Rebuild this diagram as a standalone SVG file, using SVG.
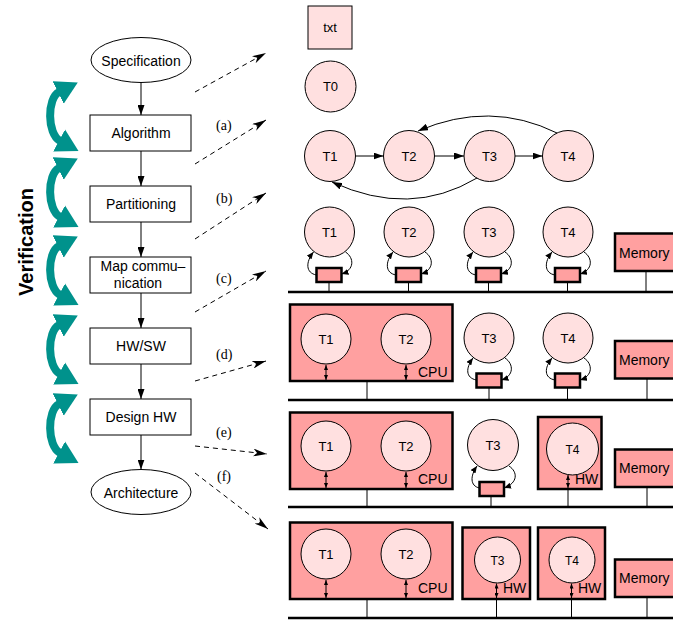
<svg xmlns="http://www.w3.org/2000/svg" width="673" height="621" viewBox="0 0 673 621">
<style>
text{font-family:"Liberation Sans",Arial,sans-serif;font-size:14px;fill:#000}
.lbl{font-family:"Liberation Serif","Times New Roman",serif;font-size:14px}
.t{font-size:13px;text-anchor:middle}
.ts{font-size:12px;text-anchor:middle}
.c{text-anchor:middle}
.flow{fill:#fff;stroke:#000;stroke-width:1}
.task{fill:#FFE0E0;stroke:#000;stroke-width:1}
.blk{fill:#FFA0A0;stroke:#000;stroke-width:2.5}
.bus{stroke:#000;stroke-width:2.5;fill:none}
.ln{stroke:#000;stroke-width:1;fill:none}
.dash{stroke:#000;stroke-width:1;fill:none;stroke-dasharray:5 4;marker-end:url(#dart)}
.arr{stroke:#000;stroke-width:1;fill:none;marker-end:url(#ah)}
.loop{stroke:#000;stroke-width:1;fill:none;marker-end:url(#sm)}
.dbl{stroke:#000;stroke-width:1;fill:none;marker-start:url(#sm2);marker-end:url(#sm2)}
.ver{stroke:#00928C;stroke-width:8;fill:none;marker-start:url(#teal);marker-end:url(#teal)}
</style>
<defs>
<marker id="ah" markerUnits="userSpaceOnUse" viewBox="0 0 10 7" markerWidth="10" markerHeight="7" refX="10" refY="3.5" orient="auto"><path d="M0,0 L10,3.5 L0,7 Z" fill="#000"/></marker>
<marker id="dart" markerUnits="userSpaceOnUse" viewBox="0 0 14 8" markerWidth="14" markerHeight="8" refX="14" refY="4" orient="auto"><path d="M0,0 L14,4 L0,8 L4,4 Z" fill="#000"/></marker>
<marker id="sm" markerUnits="userSpaceOnUse" viewBox="0 0 7 6" markerWidth="7" markerHeight="6" refX="7" refY="3" orient="auto"><path d="M0,0 L7,3 L0,6 Z" fill="#000"/></marker>
<marker id="sm2" markerUnits="userSpaceOnUse" viewBox="0 0 5 4" markerWidth="5" markerHeight="4" refX="5" refY="2" orient="auto-start-reverse"><path d="M0,0 L5,2 L0,4 Z" fill="#000"/></marker>
<marker id="teal" markerUnits="userSpaceOnUse" viewBox="0 -13 22 26" markerWidth="22" markerHeight="26" refX="1" refY="0" orient="auto-start-reverse"><path d="M0,-12.5 L22,0 L0,12.5 Z" fill="#00928C"/></marker>
</defs>

<!-- Verification -->
<g id="verification">
<text transform="translate(33,242) rotate(-90)" text-anchor="middle" style="font-size:20px;font-weight:bold">Verification</text>
<path class="ver" d="M59,92 C47,98 47,134 60,141"/>
<path class="ver" d="M59,168 C47,174 47,210 60,217"/>
<path class="ver" d="M59,246 C47,252 47,288 60,295"/>
<path class="ver" d="M59,325 C47,331 47,367 60,374"/>
<path class="ver" d="M59,404 C47,410 47,446 60,453"/>
</g>

<!-- Flow nodes -->
<g id="specification"><ellipse class="flow" cx="141" cy="60" rx="50" ry="22.5"/><text class="c" x="141" y="66">Specification</text></g>
<g id="algorithm"><rect class="flow" x="90" y="115" width="101" height="36"/><text class="c" x="141" y="138">Algorithm</text></g>
<g id="partitioning"><rect class="flow" x="90" y="186" width="101" height="36"/><text class="c" x="141" y="209">Partitioning</text></g>
<g id="mapcomm"><rect class="flow" x="90" y="257" width="101" height="36"/><text class="c" x="143" y="271">Map commu–</text><text class="c" x="138" y="288">nication</text></g>
<g id="hwsw"><rect class="flow" x="90" y="328" width="101" height="36"/><text class="c" x="141" y="351">HW/SW</text></g>
<g id="designhw"><rect class="flow" x="90" y="399" width="101" height="36"/><text class="c" x="141" y="422">Design HW</text></g>
<g id="architecture"><ellipse class="flow" cx="141" cy="492" rx="50" ry="22.5"/><text class="c" x="141" y="498">Architecture</text></g>

<!-- Flow connectors and step arrows -->
<g id="connectors">
<line class="arr" x1="141" y1="82.5" x2="141" y2="115"/>
<line class="arr" x1="141" y1="151" x2="141" y2="186"/>
<line class="arr" x1="141" y1="222" x2="141" y2="257"/>
<line class="arr" x1="141" y1="293" x2="141" y2="328"/>
<line class="arr" x1="141" y1="364" x2="141" y2="399"/>
<line class="arr" x1="141" y1="435" x2="141" y2="469.5"/>
<line class="dash" x1="195" y1="92" x2="266" y2="53"/>
<line class="dash" x1="195" y1="164" x2="266" y2="120"/>
<line class="dash" x1="195" y1="239" x2="266" y2="193"/>
<line class="dash" x1="195" y1="312" x2="266" y2="271"/>
<line class="dash" x1="195" y1="381" x2="266" y2="361"/>
<line class="dash" x1="195" y1="446" x2="267" y2="454"/>
<line class="dash" x1="195" y1="473" x2="268" y2="529"/>
</g>
<g id="step-labels">
<text class="lbl" x="216" y="130">(a)</text>
<text class="lbl" x="216" y="203">(b)</text>
<text class="lbl" x="216" y="283">(c)</text>
<text class="lbl" x="216" y="359">(d)</text>
<text class="lbl" x="216" y="437">(e)</text>
<text class="lbl" x="217" y="481">(f)</text>
</g>

<!-- Legend -->
<g id="txt"><rect class="task" x="308" y="6" width="44" height="43"/><text class="c" x="330" y="32" style="font-size:13px">txt</text></g>
<g id="t0"><circle class="task" cx="330.5" cy="86.5" r="25.5"/><text class="t" x="330.5" y="91">T0</text></g>

<!-- Row a: task graph -->
<g id="a-t1"><circle class="task" cx="330" cy="156" r="25.5"/><text class="t" x="330" y="160.5">T1</text></g>
<g id="a-t2"><circle class="task" cx="409" cy="156" r="25.5"/><text class="t" x="409" y="160.5">T2</text></g>
<g id="a-t3"><circle class="task" cx="489.5" cy="156" r="25.5"/><text class="t" x="489.5" y="160.5">T3</text></g>
<g id="a-t4"><circle class="task" cx="568" cy="156" r="25.5"/><text class="t" x="568" y="160.5">T4</text></g>
<g id="a-edges">
<line class="arr" x1="355.5" y1="156" x2="383.5" y2="156"/>
<line class="arr" x1="434.5" y1="156" x2="464" y2="156"/>
<line class="arr" x1="515" y1="156" x2="542.5" y2="156"/>
<path class="arr" d="M557,133 Q490,100 418,131"/>
<path class="arr" d="M477,178 Q410,218 332,182"/>
</g>

<!-- Row b -->
<g id="b-t1"><circle class="task" cx="329.5" cy="232" r="25"/><text class="t" x="329.5" y="236.5">T1</text>
<rect class="blk" x="316.5" y="268" width="25" height="14"/>
<path class="loop" d="M316.5,275 C305.5,273 305.5,262 313.5,252"/><path class="loop" d="M345.5,252 C354.5,258 354.5,270 341.5,274"/>
<line class="ln" x1="329" y1="282" x2="329" y2="292"/></g>
<g id="b-t2"><circle class="task" cx="409" cy="232" r="25"/><text class="t" x="409" y="236.5">T2</text>
<rect class="blk" x="396" y="268" width="25" height="14"/>
<path class="loop" d="M396,275 C385,273 385,262 393,252"/><path class="loop" d="M425,252 C434,258 434,270 421,274"/>
<line class="ln" x1="408.5" y1="282" x2="408.5" y2="292"/></g>
<g id="b-t3"><circle class="task" cx="489" cy="232" r="25"/><text class="t" x="489" y="236.5">T3</text>
<rect class="blk" x="476" y="268" width="25" height="14"/>
<path class="loop" d="M476,275 C465,273 465,262 473,252"/><path class="loop" d="M505,252 C514,258 514,270 501,274"/>
<line class="ln" x1="488.5" y1="282" x2="488.5" y2="292"/></g>
<g id="b-t4"><circle class="task" cx="568" cy="232" r="25"/><text class="t" x="568" y="236.5">T4</text>
<rect class="blk" x="555" y="268" width="25" height="14"/>
<path class="loop" d="M555,275 C544,273 544,262 552,252"/><path class="loop" d="M584,252 C593,258 593,270 580,274"/>
<line class="ln" x1="567.5" y1="282" x2="567.5" y2="292"/></g>
<g id="b-memory"><rect class="blk" x="615" y="233.5" width="62" height="37.5"/><text x="619" y="257.5">Memory</text><line class="ln" x1="646" y1="271" x2="646" y2="292"/></g>
<line id="b-bus" class="bus" x1="288" y1="292" x2="673" y2="292"/>

<!-- Row c -->
<g id="c-cpu"><rect class="blk" x="290" y="304.5" width="162.5" height="76.5"/><text x="418" y="377">CPU</text>
<circle class="task" cx="326" cy="339" r="25"/><text class="t" x="326" y="343.5">T1</text>
<circle class="task" cx="406" cy="339" r="25"/><text class="t" x="406" y="343.5">T2</text>
<line class="dbl" x1="326" y1="365" x2="326" y2="380"/><line class="dbl" x1="406" y1="365" x2="406" y2="380"/>
<line class="ln" x1="367" y1="382" x2="367" y2="400"/></g>
<g id="c-t3"><circle class="task" cx="489" cy="338" r="25"/><text class="t" x="489" y="342.5">T3</text>
<rect class="blk" x="476.5" y="373.5" width="25" height="14"/>
<path class="loop" d="M476.5,380 C465.5,378 465.5,368 473,358"/><path class="loop" d="M505,358 C514,364 514,376 501.5,380"/>
<line class="ln" x1="489" y1="387.5" x2="489" y2="400"/></g>
<g id="c-t4"><circle class="task" cx="568" cy="338" r="25"/><text class="t" x="568" y="342.5">T4</text>
<rect class="blk" x="555" y="373.5" width="25" height="14"/>
<path class="loop" d="M555,380 C544,378 544,368 552,358"/><path class="loop" d="M584,358 C593,364 593,376 580,380"/>
<line class="ln" x1="567.5" y1="387.5" x2="567.5" y2="400"/></g>
<g id="c-memory"><rect class="blk" x="615" y="341" width="62" height="37.5"/><text x="619" y="364.5">Memory</text><line class="ln" x1="647" y1="378.5" x2="647" y2="400"/></g>
<line id="c-bus" class="bus" x1="288" y1="400" x2="673" y2="400"/>

<!-- Row d -->
<g id="d-cpu"><rect class="blk" x="290" y="412.5" width="162.5" height="76.5"/><text x="418" y="484">CPU</text>
<circle class="task" cx="326" cy="446" r="25"/><text class="t" x="326" y="450.5">T1</text>
<circle class="task" cx="406" cy="446" r="25"/><text class="t" x="406" y="450.5">T2</text>
<line class="dbl" x1="326" y1="472" x2="326" y2="488"/><line class="dbl" x1="406" y1="472" x2="406" y2="488"/>
<line class="ln" x1="367" y1="490" x2="367" y2="507"/></g>
<g id="d-t3"><circle class="task" cx="493" cy="445" r="25.5"/><text class="t" x="493" y="449.5">T3</text>
<rect class="blk" x="479.5" y="482" width="24.5" height="14"/>
<path class="loop" d="M479.5,488 C470,486 470,476 477,466"/><path class="loop" d="M509,466 C518,472 518,483 504,488"/>
<line class="ln" x1="491" y1="496" x2="491" y2="507"/></g>
<g id="d-t4hw"><rect class="blk" x="538" y="417" width="63.5" height="72"/><text x="575" y="484">HW</text>
<circle class="task" cx="572.5" cy="449" r="26"/><text class="ts" x="572.5" y="453.5">T4</text>
<line class="dbl" x1="568" y1="475" x2="568" y2="488"/>
<line class="ln" x1="568" y1="490" x2="568" y2="507"/></g>
<g id="d-memory"><rect class="blk" x="615" y="449.5" width="62" height="37.5"/><text x="619" y="473">Memory</text><line class="ln" x1="647" y1="487" x2="647" y2="507"/></g>
<line id="d-bus" class="bus" x1="288" y1="507" x2="673" y2="507"/>

<!-- Row e -->
<g id="e-cpu"><rect class="blk" x="290" y="522.5" width="162.5" height="76.5"/><text x="418" y="593">CPU</text>
<circle class="task" cx="326" cy="554" r="25"/><text class="t" x="326" y="558.5">T1</text>
<circle class="task" cx="406" cy="554" r="25"/><text class="t" x="406" y="558.5">T2</text>
<line class="dbl" x1="326" y1="580" x2="326" y2="598"/><line class="dbl" x1="406" y1="580" x2="406" y2="598"/>
<line class="ln" x1="367" y1="600" x2="367" y2="618"/></g>
<g id="e-t3hw"><rect class="blk" x="462.5" y="527.5" width="67.5" height="71.5"/><text x="503" y="593">HW</text>
<circle class="task" cx="497.5" cy="560" r="23"/><text class="ts" x="497.5" y="564.5">T3</text>
<line class="dbl" x1="496.5" y1="583.5" x2="496.5" y2="598"/>
<line class="ln" x1="496.5" y1="600" x2="496.5" y2="618"/></g>
<g id="e-t4hw"><rect class="blk" x="538" y="527.5" width="67" height="71.5"/><text x="578" y="593">HW</text>
<circle class="task" cx="572" cy="560" r="23"/><text class="ts" x="572" y="564.5">T4</text>
<line class="dbl" x1="571.5" y1="583.5" x2="571.5" y2="598"/>
<line class="ln" x1="571.5" y1="600" x2="571.5" y2="618"/></g>
<g id="e-memory"><rect class="blk" x="615" y="559.5" width="62" height="37.5"/><text x="619" y="583">Memory</text><line class="ln" x1="647" y1="597" x2="647" y2="618"/></g>
<line id="e-bus" class="bus" x1="288" y1="618" x2="673" y2="618"/>
</svg>
